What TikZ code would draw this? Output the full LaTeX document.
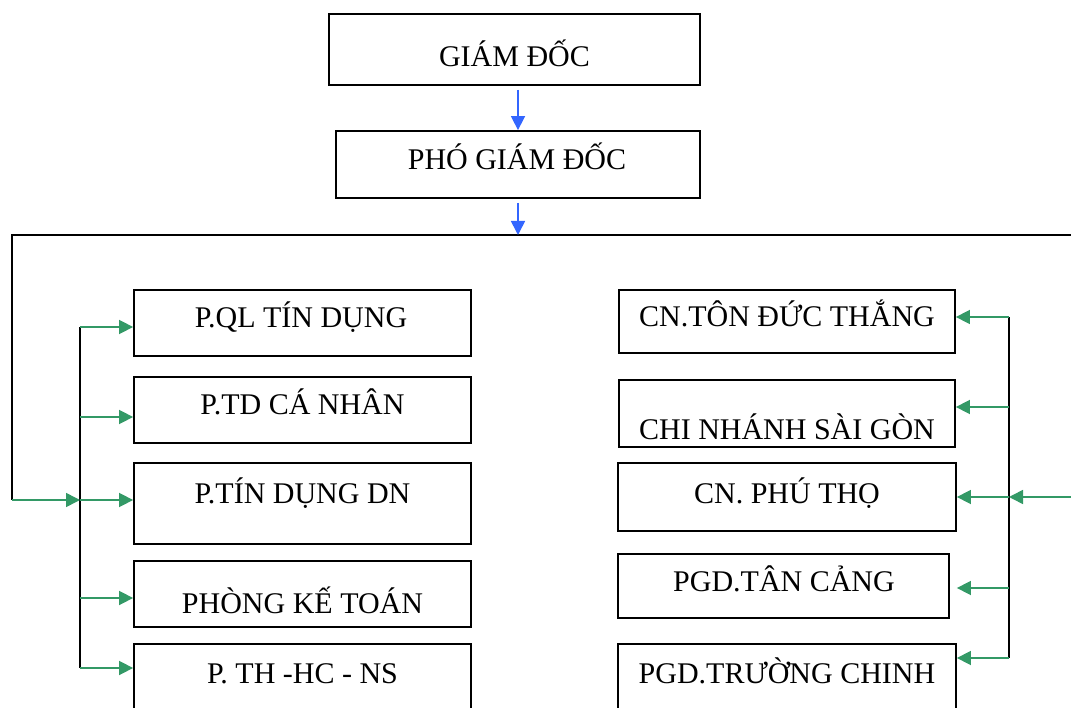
\documentclass[tikz,border=0pt]{standalone}
\usepackage{fontspec}
\setmainfont{Liberation Serif}
\usetikzlibrary{arrows.meta}
\definecolor{linkgreen}{RGB}{51,153,102}
\definecolor{linkblue}{RGB}{51,102,255}
\tikzset{
  box/.style={draw=black, line width=1.8pt, inner sep=0pt, fill=white},
  lbl/.style={anchor=base, inner sep=0pt, font=\fontsize{30}{36}\selectfont},
  busline/.style={draw=black, line width=1.9pt},
  garrow/.style={draw=linkgreen, line width=1.6pt, -{Triangle[length=14pt,width=14pt]}, color=linkgreen},
  barrow/.style={draw=linkblue, line width=1.6pt, -{Triangle[length=14pt,width=14pt]}, color=linkblue},
}
\begin{document}
\begin{tikzpicture}[x=1pt,y=-1pt]
\useasboundingbox (0,0) rectangle (1071,708);
\clip (0,0) rectangle (1071,708);
\fill[white] (0,0) rectangle (1071,708);

% management
\node[box, minimum width=371pt, minimum height=71pt] (gd)  at (514.5,49.5) {};
\node[box, minimum width=364pt, minimum height=67pt] (pgd) at (518,164.5) {};
\node[lbl] (tgd)  at (514.5,67) {GIÁM ĐỐC};
\node[lbl] (tpgd) at (517,170) {PHÓ GIÁM ĐỐC};

% departments (left column)
\node[box, minimum width=337pt, minimum height=66pt] (L1) at (302.5,323) {};
\node[box, minimum width=337pt, minimum height=66pt] (L2) at (302.5,410) {};
\node[box, minimum width=337pt, minimum height=81pt] (L3) at (302.5,503.5) {};
\node[box, minimum width=337pt, minimum height=66pt] (L4) at (302.5,594) {};
\node[box, minimum width=337pt, minimum height=80pt] (L5) at (302.5,684) {};
\node[lbl] (tL1) at (301,328) {P.QL TÍN DỤNG};
\node[lbl] (tL2) at (302.5,415) {P.TD CÁ NHÂN};
\node[lbl] (tL3) at (302.5,503) {P.TÍN DỤNG DN};
\node[lbl] (tL4) at (302.5,613) {PHÒNG KẾ TOÁN};
\node[lbl] (tL5) at (302.5,683) {P. TH -HC - NS};

% branches (right column)
\node[box, minimum width=336pt, minimum height=63pt] (R1) at (787,321.5) {};
\node[box, minimum width=336pt, minimum height=67pt] (R2) at (787,413.5) {};
\node[box, minimum width=338pt, minimum height=68pt] (R3) at (787,497) {};
\node[box, minimum width=331pt, minimum height=64pt] (R4) at (783.5,586) {};
\node[box, minimum width=338pt, minimum height=80pt] (R5) at (787,684) {};
\node[lbl] (tR1) at (787,327) {CN.TÔN ĐỨC THẮNG};
\node[lbl] (tR2) at (787,439) {CHI NHÁNH SÀI GÒN};
\node[lbl] (tR3) at (787,503) {CN. PHÚ THỌ};
\node[lbl] (tR4) at (784,591) {PGD.TÂN CẢNG};
\node[lbl] (tR5) at (787,683) {PGD.TRƯỜNG CHINH};

% junction points
\coordinate (top)   at (518,235);
\coordinate (busL)  at (12,235);
\coordinate (busR)  at (1080,235);
\coordinate (feedL) at (12,500);
\coordinate (l1) at (80,327);
\coordinate (l2) at (80,417);
\coordinate (l3) at (80,500);
\coordinate (l4) at (80,598);
\coordinate (l5) at (80,668);
\coordinate (r1) at (1009,317);
\coordinate (r2) at (1009,407);
\coordinate (r3) at (1009,497);
\coordinate (r4) at (1009,588);
\coordinate (r5) at (1009,658);
\coordinate (feedR) at (1080,497);

% distribution lines
\draw[busline] (busR) -- (busL) -- (feedL);
\draw[busline] (l1) -- (l5);
\draw[busline] (r1) -- (r5);

% blue arrows
\draw[barrow, shorten <=4pt] (pgd.north |- gd.south) -- (pgd.north);
\draw[barrow, shorten <=4pt] (pgd.south) -- (top);

% green arrows, left
\draw[garrow] (feedL) -- (l3);
\draw[garrow] (l1) -- (l1 -| L1.west);
\draw[garrow] (l2) -- (l2 -| L2.west);
\draw[garrow] (l3) -- (l3 -| L3.west);
\draw[garrow] (l4) -- (l4 -| L4.west);
\draw[garrow] (l5) -- (l5 -| L5.west);

% green arrows, right
\draw[garrow] (feedR) -- (r3);
\draw[garrow] (r1) -- (r1 -| R1.east);
\draw[garrow] (r2) -- (r2 -| R2.east);
\draw[garrow] (r3) -- (r3 -| R3.east);
\draw[garrow] (r4) -- (r4 -| R3.east);
\draw[garrow] (r5) -- (r5 -| R5.east);
\end{tikzpicture}
\end{document}
